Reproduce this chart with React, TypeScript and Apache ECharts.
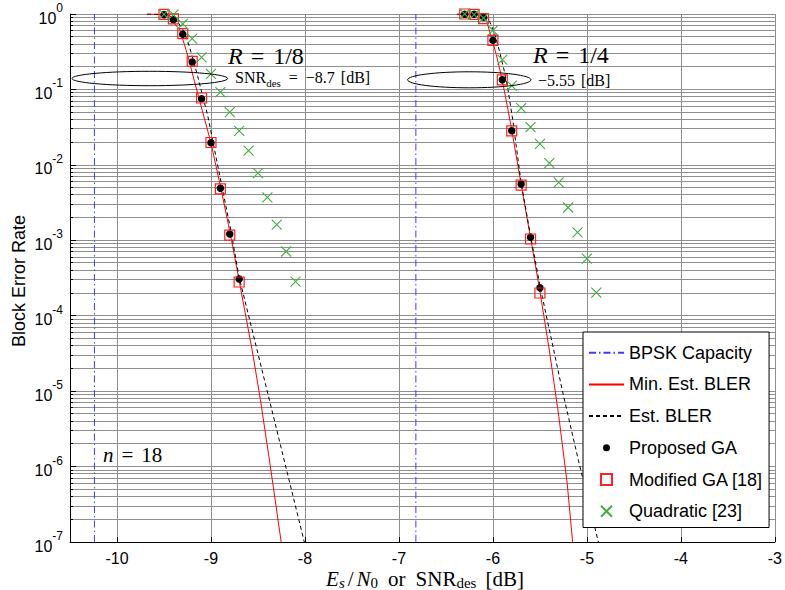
import React, { useEffect, useRef } from 'react';
import * as echarts from 'echarts';

const SANS = 'Liberation Sans';
const SERIF = 'Liberation Serif';
const GRID_COLOR = '#8e8e8e';

// axis ranges
const xMin = -10.5;
const xMax = -3;
const yMin = 1e-7;
const yMax = 1;

// minor (log) gridline positions: multipliers inside each decade
const minorDecadeExps = [-7, -6, -5, -4, -3, -2, -1];
const minorMultipliers = [2, 3, 4, 5, 6, 7, 8, 9];

// BPSK capacity (vertical lines)
const bpskCapacityX = [-10.24, -6.82];
const bpskSpanY = [1e-7, 1];

// ---------- R = 1/8 ----------
const markerX_R8 = [-9.5, -9.4, -9.3, -9.2, -9.1, -9.0, -8.9, -8.8, -8.7];
const proposedGA_R8 = [0.98, 0.84, 0.54, 0.231, 0.0753, 0.0196, 0.0049, 0.00121, 3.06e-4];
const modifiedGA_R8 = [0.99, 0.86, 0.55, 0.235, 0.077, 0.0198, 0.0048, 0.00117, 2.8e-4];
const quadX_R8 = [-9.5, -9.4, -9.3, -9.2, -9.1, -9.0, -8.9, -8.8, -8.7, -8.6, -8.5, -8.4, -8.3, -8.2, -8.1];
const quadratic_R8 = [0.99, 0.98, 0.74, 0.47, 0.266, 0.161, 0.0924, 0.0501, 0.0283, 0.0154, 0.00779, 0.0037, 0.00161, 7.1e-4, 2.84e-4];

const minEstX_R8 = [-9.68, -9.51, -9.42, -9.334, -9.281, -9.23, -9.176, -9.123, -9.0, -8.895, -8.797, -8.702, -8.562, -8.474, -8.368, -8.253];
const minEstY_R8 = [1.0, 0.98, 0.84, 0.62, 0.39, 0.235, 0.128, 0.073, 0.0195, 0.0049, 0.00126, 3.0e-4, 3.5e-5, 7.7e-6, 1.0e-6, 1.0e-7];
const estX_R8 = [-9.68, -9.47, -9.368, -9.299, -9.246, -9.194, -9.141, -9.088, -9.036, -8.983, -8.884, -8.786, -8.702, -8.355, -8.007];
const estY_R8 = [1.0, 0.99, 0.84, 0.62, 0.43, 0.26, 0.149, 0.081, 0.046, 0.0215, 0.0052, 0.0013, 3.3e-4, 5.8e-6, 1.0e-7];

// ---------- R = 1/4 ----------
const markerX_R4 = [-6.3, -6.2, -6.1, -6.0, -5.9, -5.8, -5.7, -5.6, -5.5];
const proposedGA_R4 = [0.99, 0.99, 0.91, 0.447, 0.134, 0.0283, 0.00556, 0.0011, 2.34e-4];
const modifiedGA_R4 = [1.0, 0.99, 0.87, 0.447, 0.134, 0.0283, 0.0054, 0.00104, 2.0e-4];
const quadX_R4 = [-6.3, -6.2, -6.1, -6.0, -5.9, -5.8, -5.7, -5.6, -5.5, -5.4, -5.3, -5.2, -5.1, -5.0, -4.9];
const quadratic_R4 = [1.0, 0.98, 0.885, 0.606, 0.248, 0.112, 0.0567, 0.0317, 0.019, 0.01057, 0.00585, 0.00272, 0.00127, 5.7e-4, 2.03e-4];

const minEstX_R4 = [-6.38, -6.105, -6.07, -6.036, -6.007, -5.965, -5.93, -5.9, -5.85, -5.8, -5.7, -5.6, -5.504, -5.4, -5.299, -5.21, -5.152];
const minEstY_R4 = [1.0, 0.98, 0.84, 0.59, 0.456, 0.29, 0.192, 0.13, 0.063, 0.029, 0.0055, 0.00108, 2.25e-4, 3.5e-5, 4.6e-6, 6.0e-7, 1.0e-7];
const estX_R4 = [-6.38, -6.088, -6.036, -5.983, -5.93, -5.878, -5.842, -5.79, -5.7, -5.6, -5.5, -5.26, -5.09, -4.878];
const estY_R4 = [1.0, 0.98, 0.8, 0.56, 0.32, 0.173, 0.104, 0.04, 0.0058, 0.00115, 2.5e-4, 1.0e-5, 1.2e-6, 1.0e-7];

const legendNames = ['BPSK Capacity', 'Min. Est. BLER', 'Est. BLER', 'Proposed GA', 'Modified GA [18]', 'Quadratic [23]'];
const lineLegendNames = ['BPSK Capacity', 'Min. Est. BLER', 'Est. BLER'];

const pairs = (xs: number[], ys: number[]) => xs.map((x, i) => [x, ys[i]]);

const minorValues = minorDecadeExps.flatMap((e) => minorMultipliers.map((m) => m * Math.pow(10, e)));

const crisp = (v: number) => Math.round(v - 0.5) + 0.5;

function buildOption(): any {
  const lineSeries = (name: string, data: number[][], lineStyle: any, z = 3) => ({
    name,
    type: 'line',
    data,
    symbol: 'none',
    showSymbol: false,
    smooth: false,
    lineStyle: { width: 1, ...lineStyle },
    itemStyle: { color: 'rgba(0,0,0,0)', borderWidth: 0, opacity: 0 },
    z,
    silent: true,
  });

  const bpskStyle = { color: '#3c3cff', type: [7, 3, 1.5, 3] };
  const redStyle = { color: '#ff0000' };
  const dashStyle = { color: '#000000', type: [4, 3] };

  const series: any[] = [
    {
      type: 'custom',
      name: 'minorGrid',
      silent: true,
      z: 1,
      clip: false,
      data: minorValues.map((v) => [xMin, v]),
      encode: { x: 0, y: 1 },
      renderItem: (params: any, api: any) => {
        const p = api.coord([api.value(0), api.value(1)]);
        const cs = params.coordSys;
        const y = crisp(p[1]);
        return {
          type: 'group',
          children: [
            { type: 'line', shape: { x1: cs.x, y1: y, x2: cs.x + cs.width, y2: y }, style: { stroke: GRID_COLOR, lineWidth: 1 } },
            { type: 'line', shape: { x1: cs.x, y1: y, x2: cs.x + 3, y2: y }, style: { stroke: '#000', lineWidth: 1 } },
          ],
        };
      },
    },
    lineSeries('BPSK Capacity', bpskSpanY.map((y) => [bpskCapacityX[0], y]), bpskStyle),
    lineSeries('BPSK Capacity', bpskSpanY.map((y) => [bpskCapacityX[1], y]), bpskStyle),
    lineSeries('Min. Est. BLER', pairs(minEstX_R8, minEstY_R8), redStyle),
    lineSeries('Min. Est. BLER', pairs(minEstX_R4, minEstY_R4), redStyle),
    lineSeries('Est. BLER', pairs(estX_R8, estY_R8), dashStyle),
    lineSeries('Est. BLER', pairs(estX_R4, estY_R4), dashStyle),
  ];

  const dotStyle = { color: '#000000', opacity: 1 };
  const squareStyle = { color: 'rgba(0,0,0,0)', borderColor: '#ff2020', borderWidth: 1.2, opacity: 1 };
  const crossStyle = { color: 'rgba(0,0,0,0)', borderColor: '#3fae3f', borderWidth: 1.1, opacity: 1 };

  [
    [markerX_R8, proposedGA_R8, markerX_R8, modifiedGA_R8, quadX_R8, quadratic_R8],
    [markerX_R4, proposedGA_R4, markerX_R4, modifiedGA_R4, quadX_R4, quadratic_R4],
  ].forEach(([px, py, mx, my, qx, qy]) => {
    series.push({ name: 'Proposed GA', type: 'scatter', data: pairs(px, py), symbol: 'circle', symbolSize: 7.5, itemStyle: dotStyle, z: 4, silent: true });
    series.push({ name: 'Modified GA [18]', type: 'scatter', data: pairs(mx, my), symbol: 'rect', symbolSize: 10, itemStyle: squareStyle, z: 5, silent: true });
    series.push({ name: 'Quadratic [23]', type: 'scatter', data: pairs(qx, qy), symbol: 'path://M0,0L10,10M10,0L0,10', symbolSize: 10, itemStyle: crossStyle, z: 6, silent: true });
  });

  const legendIcons: Record<string, string | undefined> = {
    'Proposed GA': 'path://M0,0M14,14M3.5,7A3.5,3.5,0,1,1,10.5,7A3.5,3.5,0,1,1,3.5,7Z',
    'Modified GA [18]': 'path://M0,0M14,14M1.5,1.5L12.5,1.5L12.5,12.5L1.5,12.5Z',
    'Quadratic [23]': 'path://M0,0M14,14M1.5,1.5L12.5,12.5M12.5,1.5L1.5,12.5',
  };

  const tickFont = { fontSize: 16, fontFamily: SANS, color: '#000' };

  return {
    animation: false,
    backgroundColor: '#ffffff',
    grid: { left: 70, top: 14, width: 712, height: 528, containLabel: false },
    xAxis: {
      type: 'value',
      min: xMin,
      max: xMax,
      splitNumber: 8,
      minInterval: 1,
      maxInterval: 1,
      axisLine: { show: true, onZero: false, lineStyle: { color: '#000', width: 1 } },
      axisTick: { show: true, inside: true, length: 5, lineStyle: { color: '#000' } },
      splitLine: { show: true, lineStyle: { color: GRID_COLOR, width: 1 } },
      axisLabel: {
        ...tickFont,
        margin: 8,
        formatter: (v: number) => (Math.abs(v - Math.round(v)) < 1e-6 ? String(Math.round(v)) : ''),
      },
    },
    yAxis: {
      type: 'log',
      logBase: 10,
      min: yMin,
      max: yMax,
      axisLine: { show: true, onZero: false, lineStyle: { color: '#000', width: 1 } },
      axisTick: { show: true, inside: true, length: 6, lineStyle: { color: '#000' } },
      splitLine: { show: true, lineStyle: { color: GRID_COLOR, width: 1 } },
      minorTick: { show: false },
      axisLabel: {
        margin: 7,
        formatter: (v: number) => `{b|10}{s|${Math.round(Math.log10(v))}}`,
        rich: {
          b: { fontSize: 16, fontFamily: SANS, color: '#000', lineHeight: 24, verticalAlign: 'bottom' },
          s: { fontSize: 12, fontFamily: SANS, color: '#000', verticalAlign: 'top' },
        },
      },
    },
    legend: {
      show: true,
      orient: 'vertical',
      left: 583,
      top: 332,
      itemWidth: 35,
      itemHeight: 14,
      itemGap: 13.7,
      padding: [11.7, 6, 7.3, 5],
      backgroundColor: '#ffffff',
      borderColor: '#000000',
      borderWidth: 1,
      borderRadius: 0,
      selectedMode: false,
      textStyle: { fontSize: 18, fontFamily: SANS, color: '#000' },
      data: legendNames.map((n) => {
        if (legendIcons[n]) return { name: n, icon: legendIcons[n], itemStyle: { opacity: 1 } };
        if (lineLegendNames.includes(n)) return { name: n, itemStyle: { opacity: 0, color: 'rgba(0,0,0,0)', borderWidth: 0 } };
        return { name: n };
      }),
    },
    graphic: [
      // annotation ellipses
      { type: 'ellipse', z: 10, shape: { cx: 149.8, cy: 78.5, rx: 77.8, ry: 7.2 }, style: { fill: 'none', stroke: '#000', lineWidth: 1 } },
      { type: 'ellipse', z: 10, shape: { cx: 469.3, cy: 79.8, rx: 61.7, ry: 8 }, style: { fill: 'none', stroke: '#000', lineWidth: 1 } },
      // R = 1/8
      {
        type: 'text', z: 10, x: 228, y: 56,
        style: {
          text: '{i|R}{e|=}{m|1/8}', align: 'left', verticalAlign: 'middle', fill: '#000',
          rich: {
            i: { fontSize: 24, fontFamily: SERIF, fontStyle: 'italic' },
            e: { fontSize: 24, fontFamily: SERIF, padding: [0, 9, 0, 8] },
            m: { fontSize: 24, fontFamily: SERIF },
          },
        },
      },
      // R = 1/4
      {
        type: 'text', z: 10, x: 533, y: 55,
        style: {
          text: '{i|R}{e|=}{m|1/4}', align: 'left', verticalAlign: 'middle', fill: '#000',
          rich: {
            i: { fontSize: 24, fontFamily: SERIF, fontStyle: 'italic' },
            e: { fontSize: 24, fontFamily: SERIF, padding: [0, 9, 0, 8] },
            m: { fontSize: 24, fontFamily: SERIF },
          },
        },
      },
      // SNR_des = -8.7 [dB]
      {
        type: 'text', z: 10, x: 235, y: 79,
        style: {
          text: '{m|SNR}{s|des}{e|=}{m|−8.7}{d|[dB]}', align: 'left', verticalAlign: 'middle', fill: '#000',
          rich: {
            m: { fontSize: 16, fontFamily: SERIF, lineHeight: 19, verticalAlign: 'top' },
            s: { fontSize: 11, fontFamily: SERIF, verticalAlign: 'bottom' },
            e: { fontSize: 16, fontFamily: SERIF, lineHeight: 19, verticalAlign: 'top', padding: [0, 8, 0, 8] },
            d: { fontSize: 16, fontFamily: SERIF, lineHeight: 19, verticalAlign: 'top', padding: [0, 0, 0, 6] },
          },
        },
      },
      // -5.55 [dB]
      {
        type: 'text', z: 10, x: 538, y: 80,
        style: {
          text: '{m|−5.55}{d|[dB]}', align: 'left', verticalAlign: 'middle', fill: '#000',
          rich: {
            m: { fontSize: 16, fontFamily: SERIF },
            d: { fontSize: 16, fontFamily: SERIF, padding: [0, 0, 0, 6] },
          },
        },
      },
      // n = 18
      {
        type: 'text', z: 10, x: 103, y: 455,
        style: {
          text: '{i|n}{e|=}{m|18}', align: 'left', verticalAlign: 'middle', fill: '#000',
          rich: {
            i: { fontSize: 21, fontFamily: SERIF, fontStyle: 'italic' },
            e: { fontSize: 21, fontFamily: SERIF, padding: [0, 8, 0, 8] },
            m: { fontSize: 21, fontFamily: SERIF },
          },
        },
      },
      // x-axis title
      {
        type: 'text', z: 10, x: 425, y: 579,
        style: {
          text: '{i|E}{si|s}{sl|/}{i|N}{s|0}{or|or}{m|SNR}{s|des}{d|[dB]}',
          align: 'center', verticalAlign: 'middle', fill: '#000',
          rich: {
            i: { fontSize: 21, fontFamily: SERIF, fontStyle: 'italic', lineHeight: 22, verticalAlign: 'top' },
            si: { fontSize: 15, fontFamily: SERIF, fontStyle: 'italic', verticalAlign: 'bottom' },
            s: { fontSize: 15, fontFamily: SERIF, verticalAlign: 'bottom' },
            sl: { fontSize: 21, fontFamily: SERIF, lineHeight: 22, verticalAlign: 'top', padding: [0, 3, 0, 3] },
            or: { fontSize: 21, fontFamily: SERIF, lineHeight: 22, verticalAlign: 'top', padding: [0, 10, 0, 10] },
            m: { fontSize: 21, fontFamily: SERIF, lineHeight: 22, verticalAlign: 'top' },
            d: { fontSize: 21, fontFamily: SERIF, lineHeight: 22, verticalAlign: 'top', padding: [0, 0, 0, 9] },
          },
        },
      },
      // y-axis title
      {
        type: 'text', z: 10, x: 19, y: 281, rotation: Math.PI / 2,
        style: { text: 'Block Error Rate', fontSize: 18, fontFamily: SANS, fill: '#000', align: 'center', verticalAlign: 'middle' },
      },
    ],
    series,
  };
}

export default function App() {
  const ref = useRef<HTMLDivElement>(null);
  useEffect(() => {
    document.body.style.margin = '0';
    if (!ref.current) return;
    const chart = echarts.init(ref.current, undefined, { renderer: 'svg' });
    chart.setOption(buildOption());
    return () => chart.dispose();
  }, []);
  return <div ref={ref} style={{ width: 785, height: 590 }} />;
}
